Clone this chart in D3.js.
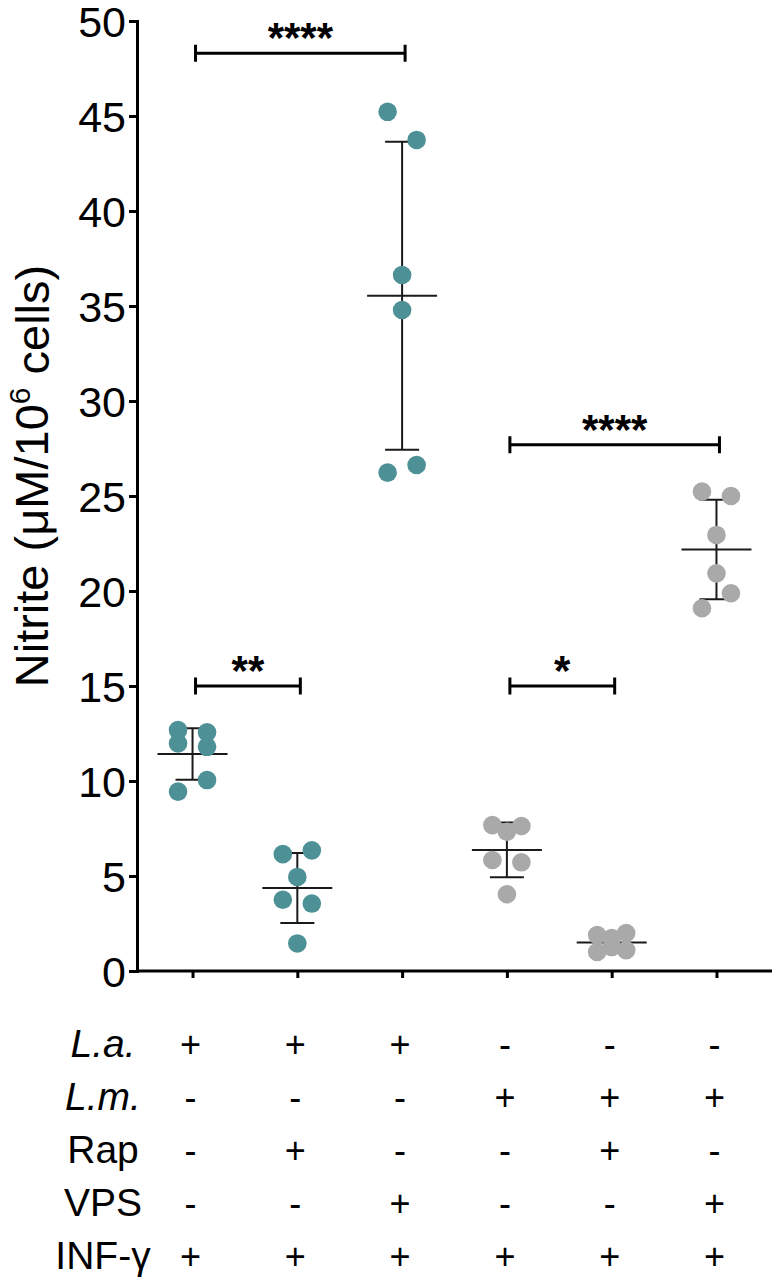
<!DOCTYPE html>
<html>
<head>
<meta charset="utf-8">
<script src="https://cdn.jsdelivr.net/npm/d3@7"></script>
<style>
  body { margin: 0; background: #fff; }
  svg { display: block; font-family: "Liberation Sans", Arial, sans-serif; }
</style>
</head>
<body>
<script>
(function(){

    //replicate values per group, in table order
    var laOnly   = [12.68, 12.56, 11.98, 11.80, 9.44, 10.05];
    var laRap    = [6.15, 6.35, 4.95, 3.75, 3.55, 1.45];
    var laVps    = [45.22, 43.74, 36.63, 34.79, 26.23, 26.63];
    var lmOnly   = [7.68, 7.63, 7.33, 5.84, 5.72, 4.04];
    var lmRap    = [1.89, 2.00, 1.74, 1.26, 1.00, 1.10];
    var lmVps    = [25.23, 25.00, 22.95, 20.93, 19.09, 19.88];
    var groupValues = [laOnly, laRap, laVps, lmOnly, lmRap, lmVps];
    var groupSpecies = ["La", "La", "La", "Lm", "Lm", "Lm"];

    //treatment table under the axis
    var rowLabels = ["L.a.", "L.m.", "Rap", "VPS", "INF-γ"];
    var italicRows = [true, true, false, false, false];
    var laRow  = ["+", "+", "+", "-", "-", "-"];
    var lmRow  = ["-", "-", "-", "+", "+", "+"];
    var rapRow = ["-", "+", "-", "-", "+", "-"];
    var vpsRow = ["-", "-", "+", "-", "-", "+"];
    var infRow = ["+", "+", "+", "+", "+", "+"];
    var signRows = [laRow, lmRow, rapRow, vpsRow, infRow];

    //significance brackets: [from group, to group, height, label]
    var sigPairs = [
        [0, 2, 48.3, "****"],
        [0, 1, 15.0, "**"],
        [3, 4, 15.0, "*"],
        [3, 5, 27.7, "****"]
    ];

    var yTicks = [0, 5, 10, 15, 20, 25, 30, 35, 40, 45, 50];

    var width = 776, height = 1285;
    var colors = { La: "#4d9096", Lm: "#a9a9a9" };
    var ink = "#000";

    var svg = d3.select("body").append("svg")
        .attr("width", width)
        .attr("height", height);

    var x = d3.scalePoint()
        .domain(d3.range(groupValues.length))
        .range([137, 772])
        .padding(0.53);

    var y = d3.scaleLinear()
        .domain([0, 50])
        .range([971, 21]);

    //y axis
    var yAxis = svg.append("g")
        .attr("transform", "translate(137,0)")
        .call(d3.axisLeft(y).tickValues(yTicks).tickSize(8).tickSizeOuter(0).tickPadding(3));
    yAxis.select(".domain").attr("stroke-width", 3).attr("stroke-linecap", "square");
    yAxis.selectAll(".tick line").attr("stroke-width", 3);
    yAxis.selectAll(".tick text")
        .attr("font-size", 43)
        .attr("font-family", "Liberation Sans, Arial, sans-serif")
        .attr("fill", ink)
        .attr("dy", "0.36em");

    //x axis with plain ticks
    var xAxis = svg.append("g")
        .attr("transform", "translate(0,971)")
        .call(d3.axisBottom(x).tickSize(7).tickSizeOuter(0).tickFormat(""));
    xAxis.select(".domain").attr("stroke-width", 3).attr("d", "M137,0H772");
    xAxis.selectAll(".tick line").attr("stroke-width", 3);

    //y title
    var title = svg.append("text")
        .attr("transform", "translate(48,476) rotate(-90)")
        .attr("text-anchor", "middle")
        .attr("font-size", 47)
        .attr("fill", ink);
    title.append("tspan").text("Nitrite (μM/10");
    title.append("tspan").attr("font-size", 30).attr("dy", "-0.6em").text("6");
    title.append("tspan").attr("dy", "0.4em").text(" cells)");

    //lay dots out in rows: close neighbours go side by side
    function layout(vals){
        var order = d3.range(vals.length).sort(function(a, b){ return vals[b] - vals[a]; });
        var gapPx = function(a, b){ return (vals[a] - vals[b]) * 19; };
        var offsets = new Array(vals.length).fill(0);
        var i = 0;
        while (i < order.length){
            var a = order[i], b = order[i + 1], c = order[i + 2];
            var pair = b !== undefined && gapPx(a, b) < 30 &&
                !(c !== undefined && gapPx(b, c) < gapPx(a, b));
            if (pair){
                var left = Math.min(a, b), right = Math.max(a, b);
                offsets[left] = -14.5;
                offsets[right] = 14.5;
                i += 2;
            } else {
                i += 1;
            }
        }
        return offsets;
    }

    //mean and SD bars
    var stats = groupValues.map(function(vals, g){
        var m = d3.mean(vals), sd = d3.deviation(vals);
        return { g: g, mean: m, lo: m - sd, hi: m + sd };
    });

    var bars = svg.append("g")
        .attr("stroke", "#1a1a1a")
        .attr("stroke-width", 2);
    stats.forEach(function(s){
        var cx = x(s.g);
        bars.append("line").attr("x1", cx).attr("x2", cx).attr("y1", y(s.lo)).attr("y2", y(s.hi));
        bars.append("line").attr("x1", cx - 17).attr("x2", cx + 17).attr("y1", y(s.hi)).attr("y2", y(s.hi));
        bars.append("line").attr("x1", cx - 17).attr("x2", cx + 17).attr("y1", y(s.lo)).attr("y2", y(s.lo));
        bars.append("line").attr("x1", cx - 35).attr("x2", cx + 35).attr("y1", y(s.mean)).attr("y2", y(s.mean));
    });

    //dots
    var dots = [];
    groupValues.forEach(function(vals, g){
        var offs = layout(vals);
        vals.forEach(function(v, k){
            dots.push({ g: g, v: v, dx: offs[k], sp: groupSpecies[g] });
        });
    });
    svg.append("g").selectAll("circle")
        .data(dots)
        .enter()
        .append("circle")
        .attr("cx", function(d){ return x(d.g) + d.dx; })
        .attr("cy", function(d){ return y(d.v); })
        .attr("r", 9.3)
        .attr("fill", function(d){ return colors[d.sp]; });

    //significance brackets
    var sig = svg.append("g");
    sigPairs.forEach(function(p){
        var x1 = x(p[0]) + 3, x2 = x(p[1]) + 3, yy = y(p[2]);
        sig.append("path")
            .attr("d", "M" + x1 + "," + (yy - 8.5) + "V" + (yy + 8.5) +
                       "M" + x1 + "," + yy + "H" + x2 +
                       "M" + x2 + "," + (yy - 8.5) + "V" + (yy + 8.5))
            .attr("fill", "none")
            .attr("stroke", ink)
            .attr("stroke-width", 3);
        sig.append("text")
            .attr("x", (x1 + x2) / 2)
            .attr("y", yy - 1)
            .attr("text-anchor", "middle")
            .attr("font-size", 42)
            .attr("font-weight", "bold")
            .attr("fill", ink)
            .text(p[3]);
    });

    //treatment table
    var rowY = d3.scaleLinear().domain([0, 4]).range([1057, 1269]);
    var table = svg.append("g").attr("fill", ink).attr("font-size", 39);
    rowLabels.forEach(function(lab, r){
        table.append("text")
            .attr("x", 103)
            .attr("y", rowY(r))
            .attr("text-anchor", "middle")
            .attr("font-style", italicRows[r] ? "italic" : "normal")
            .text(lab);
        table.selectAll(".sign" + r)
            .data(signRows[r])
            .enter()
            .append("text")
            .attr("class", "sign" + r)
            .attr("x", function(d, i){ return x(i) - 2; })
            .attr("y", rowY(r) - (r === 4 ? 0 : 0))
            .attr("text-anchor", "middle")
            .attr("font-size", 36)
            .text(function(d){ return d; });
    });

})();
</script>
</body>
</html>
